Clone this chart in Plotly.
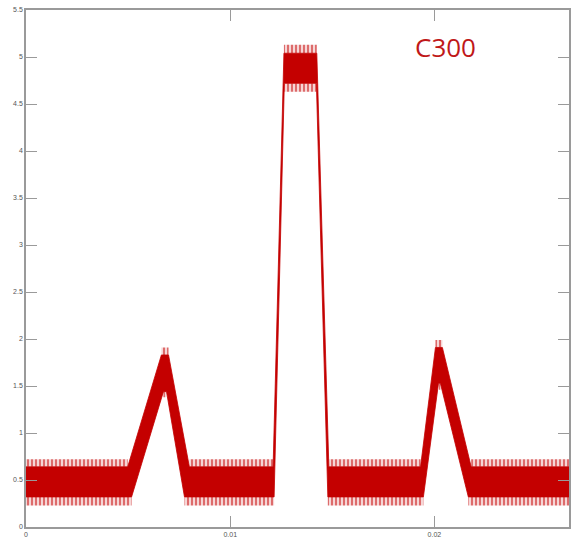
import plotly.graph_objects as go

# Upper and lower envelopes of the noisy signal
x_upper = [0.0, 0.00498, 0.00663, 0.00698, 0.00800, 0.01210, 0.01263, 0.01424,
           0.01483, 0.01932, 0.02005, 0.02039, 0.02180, 0.02660]
y_upper = [0.64, 0.64, 1.83, 1.83, 0.64, 0.64, 5.04, 5.04,
           0.64, 0.64, 1.91, 1.91, 0.64, 0.64]
x_lower = [0.0, 0.00517, 0.00673, 0.00688, 0.00776, 0.01215, 0.01265, 0.01422,
           0.01478, 0.01946, 0.02020, 0.02029, 0.02166, 0.02660]
y_lower = [0.32, 0.32, 1.44, 1.44, 0.32, 0.32, 4.72, 4.72,
           0.32, 0.32, 1.53, 1.53, 0.32, 0.32]

# Spike fringes beyond the solid band: (x start, x end, y from, y to)
fringe_segments = [
    (0.0, 0.00498, 0.64, 0.72), (0.0, 0.00517, 0.32, 0.23),
    (0.00800, 0.01210, 0.64, 0.72), (0.00776, 0.01215, 0.32, 0.23),
    (0.01483, 0.01932, 0.64, 0.72), (0.01478, 0.01946, 0.32, 0.23),
    (0.02180, 0.02660, 0.64, 0.72), (0.02166, 0.02660, 0.32, 0.23),
    (0.01263, 0.01424, 5.04, 5.13), (0.01265, 0.01422, 4.72, 4.63),
    (0.00663, 0.00698, 1.83, 1.91), (0.00673, 0.00688, 1.44, 1.38),
    (0.02005, 0.02039, 1.91, 1.99), (0.02020, 0.02029, 1.53, 1.46),
]

x_ticks = [0, 0.01, 0.02]
x_tick_labels = ["0", "0.01", "0.02"]
y_ticks = [0, 0.5, 1, 1.5, 2, 2.5, 3, 3.5, 4, 4.5, 5, 5.5]
y_tick_labels = ["0", "0.5", "1", "1.5", "2", "2.5", "3", "3.5", "4", "4.5", "5", "5.5"]

RED = "#C40000"

fx, fy = [], []
for x0, x1, ya, yb in fringe_segments:
    fx += [x0, x1, x1, x0, x0, None]
    fy += [ya, ya, yb, yb, ya, None]

fig = go.Figure()
fig.add_trace(go.Scatter(
    x=fx, y=fy, mode="none", fill="toself",
    fillcolor="rgba(215,90,90,0.35)",
    fillpattern=dict(shape="|", fgcolor=RED, bgcolor="rgba(225,120,120,0.3)",
                     size=4, solidity=0.5),
    hoverinfo="skip", showlegend=False))
fig.add_trace(go.Scatter(x=x_upper, y=y_upper, mode="lines",
                         line=dict(color=RED, width=0.8), showlegend=False))
fig.add_trace(go.Scatter(x=x_lower, y=y_lower, mode="lines",
                         line=dict(color=RED, width=0.8), fill="tonexty",
                         fillcolor=RED, showlegend=False))

axis_common = dict(showgrid=False, zeroline=False, showline=True, mirror="allticks",
                   linecolor="#9a9a9a", linewidth=1.5, ticks="inside", ticklen=11,
                   tickcolor="#9a9a9a", tickwidth=1,
                   tickfont=dict(family="Liberation Sans, Arial", size=7, color="#555555"))

fig.update_xaxes(range=[0, 0.02659], tickvals=x_ticks, ticktext=x_tick_labels, **axis_common)
fig.update_yaxes(range=[0, 5.5], tickvals=y_ticks, ticktext=y_tick_labels, **axis_common)

fig.add_annotation(text="C300", xref="paper", yref="paper", x=0.7725, y=0.928,
                   xanchor="center", yanchor="middle",
                   showarrow=False, font=dict(family="Open Sans", size=26, color="#C01818"))

fig.update_layout(width=571, height=544, margin=dict(l=26, r=0, t=10, b=17),
                  paper_bgcolor="white", plot_bgcolor="white")

fig.write_html("out.html")
